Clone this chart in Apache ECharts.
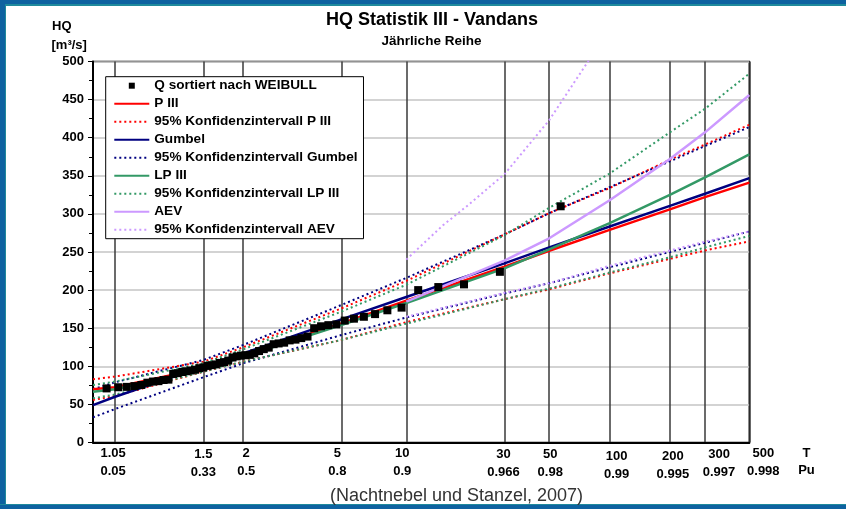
<!DOCTYPE html>
<html>
<head>
<meta charset="utf-8">
<script src="https://cdn.jsdelivr.net/npm/echarts@6/dist/echarts.min.js"></script>
<style>
html, body { margin: 0; padding: 0; background: #fff; }
#main { width: 846px; height: 509px; }
</style>
</head>
<body>
<div id="main"></div>
<script>
var FONT = '"Liberation Sans", Arial, sans-serif';

// Gitterlinien / Beschriftung der x-Achse (Wiederkehrperiode T und Pu)
var tickT = [1.05, 1.5, 2, 5, 10, 30, 50, 100, 200, 300, 500];
var tickTLabel = ['1.05', '1.5', '2', '5', '10', '30', '50', '100', '200', '300', '500'];
var tickPuLabel = ['0.05', '0.33', '0.5', '0.8', '0.9', '0.966', '0.98', '0.99', '0.995', '0.997', '0.998'];
var labelShift = [-2, 0, 3, -4, -4, -1, 1, 7, 3, 14, 14];   // px, nur Optik
var labelDrop = [0, 1, 0, 0, 0, 1, 1, 3, 3, 1, 0];

// Beobachtete Werte (Weibull)
var weibullT = [57, 28.5, 19, 14.25, 11.4, 9.5, 8.14, 7.13, 6.33, 5.7, 5.18, 4.75, 4.38, 4.07, 3.8, 3.56, 3.35, 3.17, 3.0, 2.85, 2.71, 2.59, 2.48, 2.375, 2.28, 2.19, 2.11, 2.036, 1.966, 1.9, 1.839, 1.781, 1.727, 1.676, 1.629, 1.583, 1.541, 1.5, 1.462, 1.425, 1.39, 1.357, 1.326, 1.295, 1.267, 1.239, 1.213, 1.1875, 1.163, 1.14, 1.118, 1.096, 1.075, 1.056, 1.036, 1.018];
var weibullQ = [310, 224, 207.5, 204, 200, 177, 173.5, 168.5, 165, 162.5, 160, 155, 154, 152.5, 150, 139, 137, 135, 134, 131, 130, 129, 124.5, 122.5, 120, 117, 115, 114.5, 114, 113, 111.5, 107.5, 105.5, 104.5, 102.5, 101.5, 100.5, 98.5, 97.5, 95.5, 94.5, 93.5, 92.5, 91, 90, 82.5, 82, 80.5, 80, 78.5, 75.5, 74, 73, 72.5, 71, 70];

// Verteilungen
var curveT = [1.02, 1.05, 1.5, 2, 5, 10, 30, 50, 100, 200, 300, 500];
var p3Q = [69.8, 72.4, 97.4, 113.5, 156.4, 186, 230.7, 251.7, 279, 306, 322, 341];
var p3Upper = [83, 86.5, 106, 125, 176, 212, 273, 301, 334, 371, 391, 417];
var p3Lower = [55.8, 61, 93, 106, 134.5, 158, 188, 201, 222, 241, 252, 264];
var gumbelQ = [49, 60, 99.5, 117, 161.5, 191, 235, 256, 283.4, 310.5, 326.5, 347];
var gumbelUpper = [70, 79, 108.3, 128, 180.4, 216, 273, 301, 335, 369, 389, 414];
var gumbelLower = [33, 44, 85.6, 104, 141, 164, 195.5, 209, 230, 250, 262, 277];
var lp3Q = [66.7, 69.8, 96, 112.6, 154.2, 183, 228.6, 253.5, 288, 325, 348, 378];
var lp3Upper = [75.5, 80, 104, 122.3, 171.7, 207, 272, 308, 353, 407, 438, 484];
var lp3Lower = [58, 63, 93, 106, 134.5, 156, 188, 202, 223, 243, 256, 271];

var aevT = [10, 30, 50, 100, 200, 300, 500];
var aevQ = [185, 238.6, 268, 318, 372, 407, 456];
var aevLower = [165, 196.5, 209, 232, 252, 263.5, 277];
var aevUpperT = [10, 15, 20, 30, 50, 78, 100];
var aevUpper = [240, 285, 312, 352, 423, 500, 545];

// Gumbel-Papier: reduzierte Variable
function gumbelVar(T) {
    return -Math.log(-Math.log(1 - 1 / T));
}
function toXY(tArr, qArr) {
    return tArr.map(function (t, i) { return [gumbelVar(t), qArr[i]]; });
}

var RED = '#ff0000', NAVY = '#000080', GREEN = '#339966', LILA = '#cc99ff';

function ciLine(name, color, t, q) {
    return {
        name: name, type: 'line', data: toXY(t, q), symbol: 'none',
        smooth: false, silent: true, z: 2,
        lineStyle: { color: color, width: 2, type: [2, 3] },
        itemStyle: { color: color }
    };
}
function fitLine(name, color, t, q) {
    return {
        name: name, type: 'line', data: toXY(t, q), symbol: 'none',
        smooth: false, silent: true, z: 2,
        lineStyle: { color: color, width: 2.5 },
        itemStyle: { color: color }
    };
}
function txt(x, y, s, font, align, color) {
    return { type: 'text', x: x, y: y, z: 100, silent: true,
        style: { text: s, font: font, fill: color || '#000', align: align, verticalAlign: 'middle',
                 textAlign: align, textVerticalAlign: 'middle', lineHeight: 18 } };
}

// blauer Rahmen + feste Texte
var frame = [
    { type: 'rect', shape: { x: 0, y: 0, width: 846, height: 4 }, style: { fill: '#0e62a0' }, z: 100 },
    { type: 'rect', shape: { x: 0, y: 4, width: 846, height: 2 }, style: { fill: '#1f8a9c' }, z: 100 },
    { type: 'rect', shape: { x: 0, y: 0, width: 5, height: 509 }, style: { fill: '#0e62a0' }, z: 100 },
    { type: 'rect', shape: { x: 5, y: 6, width: 1, height: 498 }, style: { fill: '#1f8a9c' }, z: 100 },
    { type: 'rect', shape: { x: 0, y: 504, width: 846, height: 1 }, style: { fill: '#1f8a9c' }, z: 100 },
    { type: 'rect', shape: { x: 0, y: 505, width: 846, height: 4 }, style: { fill: '#0e62a0' }, z: 100 },
    txt(432, 20, 'HQ Statistik III - Vandans', 'bold 18px ' + FONT, 'center'),
    txt(431.5, 41, 'Jährliche Reihe', 'bold 13.5px ' + FONT, 'center'),
    txt(52, 26.5, 'HQ', 'bold 13px ' + FONT, 'left'),
    txt(51.5, 45, '[m³/s]', 'bold 13px ' + FONT, 'left'),
    txt(806.5, 453, 'T', 'bold 13px ' + FONT, 'center'),
    txt(806.5, 470, 'Pu', 'bold 13px ' + FONT, 'center'),
    txt(456.5, 496.5, '(Nachtnebel und Stanzel, 2007)', '18px ' + FONT, 'center', '#333')
];

var myChart = echarts.init(document.getElementById('main'), null, { renderer: 'canvas' });
var option = {
    animation: false,
    backgroundColor: '#fff',
    grid: {
        left: 93, right: 96.7, top: 61.5, bottom: 66.5,
        show: true, borderColor: '#000', borderWidth: 1.5, backgroundColor: 'transparent',
        outerBoundsMode: 'none'
    },
    legend: {
        orient: 'vertical', left: 105.7, top: 76.7,
        padding: [1, 6, 1, 7.6],
        backgroundColor: '#fff', borderColor: '#000', borderWidth: 1,
        itemWidth: 35, itemHeight: 14, itemGap: 2,
        selectedMode: false, z: 10,
        itemStyle: { opacity: 0 },
        textStyle: { fontFamily: FONT, fontWeight: 'bold', fontSize: 13.6, color: '#000', lineHeight: 16 },
        data: [
            { name: 'Q sortiert nach WEIBULL', icon: 'path://M0,0M35,14M14.5,4H20.5V10H14.5Z', itemStyle: { opacity: 1, color: '#000' } },
            'P III', '95% Konfidenzintervall P III',
            'Gumbel', '95% Konfidenzintervall Gumbel',
            'LP III', '95% Konfidenzintervall LP III',
            'AEV', '95% Konfidenzintervall AEV'
        ]
    },
    xAxis: {
        type: 'value',
        min: gumbelVar(1.02), max: gumbelVar(500),
        axisLine: { show: true, onZero: false, lineStyle: { color: '#000', width: 2 } },
        axisTick: { show: false, customValues: tickT.map(gumbelVar) },
        splitLine: { show: true, lineStyle: { color: '#3a3a3a', width: 1.5 } },
        axisLabel: { show: false }
    },
    yAxis: {
        type: 'value', min: 0, max: 500, interval: 50,
        axisLine: { show: true, onZero: false, lineStyle: { color: '#000', width: 2 } },
        axisTick: { show: true, length: 5, lineStyle: { color: '#000', width: 1 } },
        minorTick: { show: true, splitNumber: 2, length: 4, lineStyle: { color: '#000', width: 1 } },
        axisLabel: { fontFamily: FONT, fontWeight: 'bold', fontSize: 13, color: '#000', margin: 9 },
        splitLine: { show: true, lineStyle: { color: '#c4c4c4', width: 1.5 } }
    },
    series: [
        ciLine('95% Konfidenzintervall P III', RED, curveT, p3Upper),
        ciLine('95% Konfidenzintervall P III', RED, curveT, p3Lower),
        ciLine('95% Konfidenzintervall Gumbel', NAVY, curveT, gumbelUpper),
        ciLine('95% Konfidenzintervall Gumbel', NAVY, curveT, gumbelLower),
        ciLine('95% Konfidenzintervall LP III', GREEN, curveT, lp3Upper),
        ciLine('95% Konfidenzintervall LP III', GREEN, curveT, lp3Lower),
        ciLine('95% Konfidenzintervall AEV', LILA, aevUpperT, aevUpper),
        ciLine('95% Konfidenzintervall AEV', LILA, aevT, aevLower),
        fitLine('P III', RED, curveT, p3Q),
        fitLine('Gumbel', NAVY, curveT, gumbelQ),
        fitLine('LP III', GREEN, curveT, lp3Q),
        fitLine('AEV', LILA, aevT, aevQ),
        {
            name: 'Q sortiert nach WEIBULL', type: 'scatter', z: 3,
            symbol: 'rect', symbolSize: 8, clip: true, silent: true,
            itemStyle: { color: '#000', opacity: 1 },
            data: toXY(weibullT, weibullQ)
        }
    ],
    graphic: frame
};
myChart.setOption(option);

// Beschriftung der x-Achse (T und Pu) an den Achsenwerten
var axisY = myChart.convertToPixel({ yAxisIndex: 0 }, 0);
var xLabels = tickT.map(function (t, i) {
    var px = myChart.convertToPixel({ xAxisIndex: 0 }, gumbelVar(t));
    return txt(px + labelShift[i], axisY + 19.5 + labelDrop[i],
        tickTLabel[i] + '\n' + tickPuLabel[i], 'bold 13px ' + FONT, 'center');
});
myChart.setOption({ graphic: frame.concat(xLabels) });
</script>
</body>
</html>
